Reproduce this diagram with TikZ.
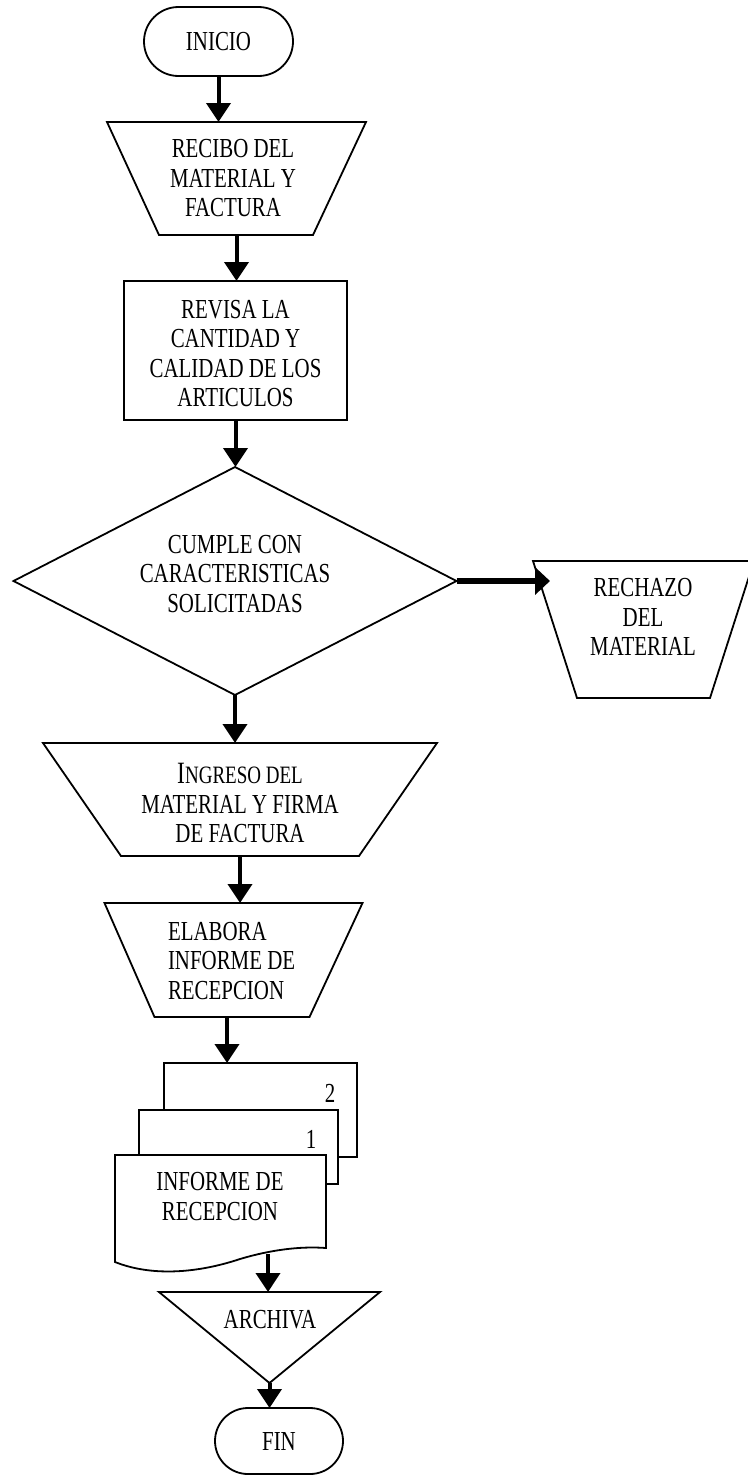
\documentclass[tikz,border=0pt]{standalone}
\usepackage{fontspec}
\setmainfont{Liberation Serif}[FakeStretch=0.76]
\usetikzlibrary{arrows.meta,shapes.misc,calc}

\begin{document}
\begin{tikzpicture}[x=1pt,y=-1pt,
  outline/.style={line width=1.8pt, line join=miter},
  anchorbox/.style={rectangle, draw=none, inner sep=0pt, outer sep=0pt},
  txt/.style={inner sep=0pt, outer sep=0pt, align=center, font=\fontsize{27.5}{29.5}\selectfont},
  flow/.style={line width=4pt, -{Triangle[width=24pt,length=19pt]}},
  terminal/.style={rounded rectangle, draw, line width=1.8pt, inner sep=0pt, outer sep=0pt,
    font=\fontsize{27.5}{29.5}\selectfont},
  sheet/.style={rectangle, draw, fill=white, line width=1.8pt, inner sep=0pt, outer sep=0pt}
]
\useasboundingbox (0,0) rectangle (747,1475);

% start
\node[terminal, minimum width=149pt, minimum height=69pt] (inicio) at (218.5,41.5) {INICIO};

% reception of goods and invoice (manual operation)
\node[anchorbox, minimum width=259pt, minimum height=113pt] (recibo) at (236.5,178.5) {};
\draw[outline] (recibo.north west) -- (recibo.north east) -- ([xshift=-53pt]recibo.south east)
  -- ([xshift=52pt]recibo.south west) -- cycle;
\node[txt] (recibo-t) at (233,178.5) {RECIBO DEL\\MATERIAL Y\\FACTURA};

% inspection
\node[anchorbox, draw, line width=1.8pt, minimum width=223pt, minimum height=139pt] (revisa) at (235.5,350.5) {};
\node[txt] (revisa-t) at (235.5,353.5) {REVISA LA\\CANTIDAD Y\\CALIDAD DE LOS\\ARTICULOS};

% decision
\node[anchorbox, minimum width=443pt, minimum height=228pt] (cumple) at (235,581) {};
\draw[outline] (cumple.north) -- (cumple.east) -- (cumple.south) -- (cumple.west) -- cycle;
\node[txt] (cumple-t) at (235,574) {CUMPLE CON\\CARACTERISTICAS\\SOLICITADAS};

% rejection
\node[anchorbox, minimum width=221pt, minimum height=137pt] (rechazo) at (643.5,629.5) {};
\draw[outline] (rechazo.north west) -- (rechazo.north east) -- ([xshift=-44pt]rechazo.south east)
  -- ([xshift=44pt]rechazo.south west) -- cycle;
\node[txt] (rechazo-t) at (643,617) {RECHAZO\\DEL\\MATERIAL};

% entry of material
\node[anchorbox, minimum width=394pt, minimum height=113pt] (ingreso) at (240,799.5) {};
\draw[outline] (ingreso.north west) -- (ingreso.north east) -- ([xshift=-78pt]ingreso.south east)
  -- ([xshift=78pt]ingreso.south west) -- cycle;
\node[txt] (ingreso-t) at (240,803) {{\fontsize{31}{29.5}\selectfont I}{\fontsize{25}{29.5}\selectfont NGRESO DEL}\\MATERIAL Y FIRMA\\DE FACTURA};

% report preparation
\node[anchorbox, minimum width=258pt, minimum height=114pt] (elabora) at (233.5,960) {};
\draw[outline] (elabora.north west) -- (elabora.north east) -- ([xshift=-53pt]elabora.south east)
  -- ([xshift=50pt]elabora.south west) -- cycle;
\node[txt, align=left, anchor=west] (elabora-t) at (168,961) {ELABORA\\INFORME DE\\RECEPCION};

% report copies
\node[sheet, minimum width=193pt, minimum height=94pt] (doc2) at (260.5,1110) {};
\node[txt] (doc2-n) at (330,1093) {2};
\node[sheet, minimum width=199pt, minimum height=74pt] (doc1) at (238.5,1147) {};
\node[txt] (doc1-n) at (311,1139) {1};
\node[anchorbox, minimum width=211pt, minimum height=107pt] (front) at (220.5,1208.5) {};
\draw[outline, fill=white] (front.south west)
  .. controls ($(front.south west)+(35,14)$) and ($(front.south west)+(80,12)$) .. ($(front.south west)+(125,-3)$)
  .. controls ($(front.south west)+(155,-12)$) and ($(front.south west)+(185,-16)$) .. ($(front.south west)+(211,-14)$)
  -- (front.north east) -- (front.north west) -- cycle;
\node[txt] (front-t) at (220,1196.5) {INFORME DE\\RECEPCION};
\coordinate (docout) at (268,1254);

% filing
\node[anchorbox, minimum width=221pt, minimum height=91pt] (archiva) at (269.5,1337.5) {};
\draw[outline] (archiva.north west) -- (archiva.north east) -- (archiva.south) -- cycle;
\node[txt] (archiva-t) at (270,1320) {ARCHIVA};

% end
\node[terminal, minimum width=128pt, minimum height=66pt] (fin) at (279,1441) {FIN};

% connectors
\draw[flow] (inicio.south) -- (inicio.south |- recibo.north);
\draw[flow] (recibo.south) -- (recibo.south |- revisa.north);
\draw[flow] (revisa.south) -- (revisa.south |- cumple.north);
\draw[line width=6.5pt, -{Triangle[width=27pt,length=15pt]}] (cumple.east) -- ([xshift=17pt]cumple.east -| rechazo.west);
\draw[flow] (cumple.south) -- (cumple.south |- ingreso.north);
\draw[flow] (ingreso.south) -- (ingreso.south |- elabora.north);
\draw[flow] ([xshift=-6.5pt]elabora.south) -- ([xshift=-6.5pt]elabora.south |- doc2.north);
\draw[flow] (docout) -- (docout |- archiva.north);
\draw[flow] (archiva.south) -- (archiva.south |- fin.north);
\end{tikzpicture}
\end{document}
